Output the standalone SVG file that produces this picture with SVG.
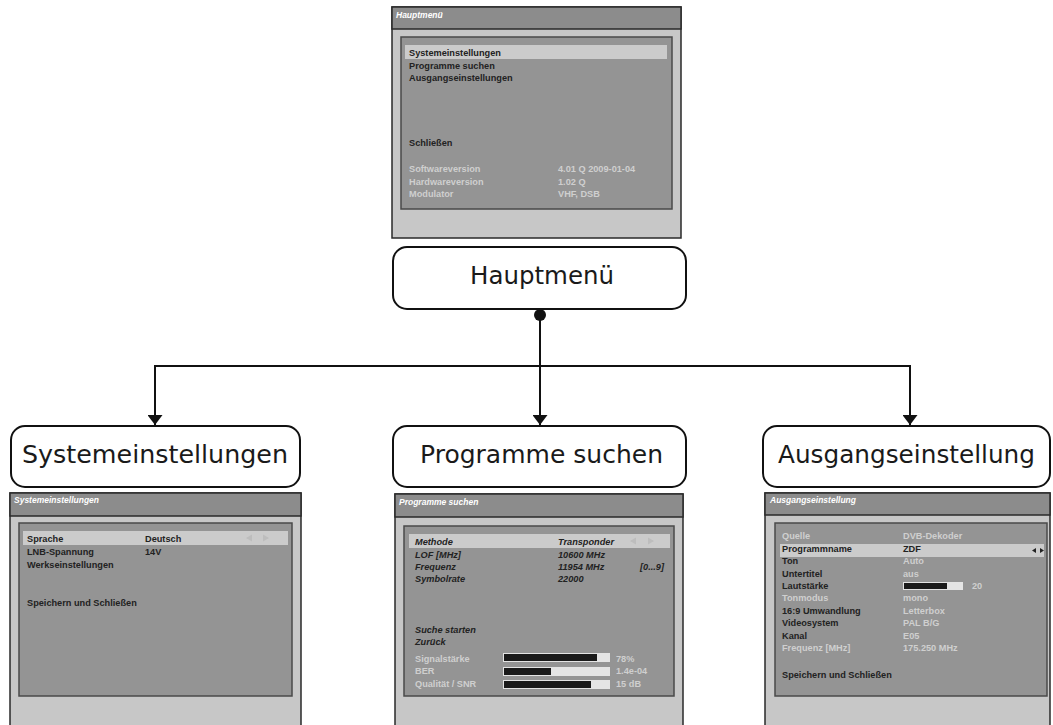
<svg xmlns="http://www.w3.org/2000/svg" width="1053" height="725" viewBox="0 0 1053 725">
<style>
.node{fill:#fff;stroke:#111;stroke-width:2}
.lbl{font-family:"DejaVu Sans",Verdana,sans-serif;font-size:25.5px;fill:#1a1a1a;text-anchor:middle}
.frame{fill:#c7c7c7;stroke:#2a2a2a;stroke-width:1.5}
.tbar{fill:#8c8c8c;stroke:#2a2a2a;stroke-width:1.5}
.panel{fill:#949494;stroke:#4a4a4a;stroke-width:1.5}
.hl{fill:#cbcbcb}
.ttl{font-family:"Liberation Sans",Arial,sans-serif;font-size:8.5px;font-weight:bold;font-style:italic;fill:#fff}
.t{font-family:"Liberation Sans",Arial,sans-serif;font-size:9.2px;font-weight:bold;fill:#222}
.ti{font-family:"Liberation Sans",Arial,sans-serif;font-size:9.2px;font-weight:bold;font-style:italic;fill:#222}
.g{font-family:"Liberation Sans",Arial,sans-serif;font-size:9.2px;font-weight:bold;fill:#cfcfcf}
.bar{fill:#e4e4e4}
.fill{fill:#1a1a1a}
.arr{fill:#bdbdbd}
.conn{fill:none;stroke:#111;stroke-width:2}
</style>
<defs>
<marker id="ah" viewBox="0 0 10 15" refX="10" refY="7.5" markerWidth="10" markerHeight="15" markerUnits="userSpaceOnUse" orient="auto">
<path d="M0,0 L10,7.5 L0,15 Z" fill="#111"/>
</marker>
</defs>

<!-- Top screenshot -->
<g id="shot-hauptmenu">
<rect class="frame" x="392" y="7" width="289" height="231"/>
<rect class="tbar" x="392" y="7" width="289" height="22"/>
<text class="ttl" x="396" y="18">Hauptmenü</text>
<rect class="panel" x="401" y="37" width="271" height="172"/>
<rect class="hl" x="405" y="45" width="262" height="14"/>
<text class="t" x="409" y="55.5">Systemeinstellungen</text>
<text class="t" x="409" y="68.5">Programme suchen</text>
<text class="t" x="409" y="80.5">Ausgangseinstellungen</text>
<text class="t" x="409" y="146">Schließen</text>
<text class="g" x="409" y="172">Softwareversion</text>
<text class="g" x="409" y="184.5">Hardwareversion</text>
<text class="g" x="409" y="197">Modulator</text>
<text class="g" x="558" y="172">4.01 Q 2009-01-04</text>
<text class="g" x="558" y="184.5">1.02 Q</text>
<text class="g" x="558" y="197">VHF, DSB</text>
</g>

<!-- Connectors -->
<g id="connectors">
<circle cx="540" cy="315" r="6" fill="#111"/>
<path class="conn" d="M540,315 V425" marker-end="url(#ah)"/>
<path class="conn" d="M155,366 H910"/>
<path class="conn" d="M155,365 V425" marker-end="url(#ah)"/>
<path class="conn" d="M910,365 V425" marker-end="url(#ah)"/>
</g>

<!-- Nodes -->
<g id="node-hauptmenu">
<rect class="node" x="393" y="247" width="293" height="62" rx="14"/>
<text class="lbl" x="542" y="284" textLength="144" lengthAdjust="spacingAndGlyphs">Hauptmenü</text>
</g>
<g id="node-system">
<rect class="node" x="11" y="426" width="289" height="61" rx="14"/>
<text class="lbl" x="155" y="463" textLength="266" lengthAdjust="spacingAndGlyphs">Systemeinstellungen</text>
</g>
<g id="node-programme">
<rect class="node" x="393" y="426" width="293" height="61" rx="14"/>
<text class="lbl" x="541.5" y="463" textLength="243" lengthAdjust="spacingAndGlyphs">Programme suchen</text>
</g>
<g id="node-ausgang">
<rect class="node" x="763" y="426" width="287" height="61" rx="14"/>
<text class="lbl" x="906.5" y="463" textLength="257" lengthAdjust="spacingAndGlyphs">Ausgangseinstellung</text>
</g>

<!-- Left screenshot -->
<g id="shot-system">
<rect class="frame" x="10" y="493" width="291" height="240"/>
<rect class="tbar" x="10" y="493" width="291" height="23"/>
<text class="ttl" x="14" y="503">Systemeinstellungen</text>
<rect class="panel" x="19" y="523" width="273" height="173"/>
<rect class="hl" x="23" y="531" width="265" height="14"/>
<text class="t" x="27" y="542">Sprache</text>
<text class="t" x="27" y="555">LNB-Spannung</text>
<text class="t" x="27" y="568">Werkseinstellungen</text>
<text class="t" x="27" y="606">Speichern und Schließen</text>
<text class="t" x="145" y="542">Deutsch</text>
<text class="t" x="145" y="555">14V</text>
<path class="arr" d="M246,538 L252,534.5 V541.5 Z M263,534.5 L269,538 L263,541.5 Z"/>
</g>

<!-- Middle screenshot -->
<g id="shot-programme">
<rect class="frame" x="395" y="494" width="288" height="240"/>
<rect class="tbar" x="395" y="494" width="288" height="23"/>
<text class="ttl" x="399" y="505">Programme suchen</text>
<rect class="panel" x="404" y="526" width="270" height="170"/>
<rect class="hl" x="409" y="534" width="261" height="14"/>
<text class="ti" x="415" y="545">Methode</text>
<text class="ti" x="415" y="557.5">LOF [MHz]</text>
<text class="ti" x="415" y="569.5">Frequenz</text>
<text class="ti" x="415" y="582">Symbolrate</text>
<text class="ti" x="415" y="633">Suche starten</text>
<text class="ti" x="415" y="645">Zurück</text>
<text class="ti" x="558" y="545">Transponder</text>
<text class="ti" x="558" y="557.5">10600 MHz</text>
<text class="ti" x="558" y="569.5">11954 MHz</text>
<text class="ti" x="558" y="582">22000</text>
<text class="ti" x="640" y="569.5">[0...9]</text>
<path class="arr" d="M630,541 L636,537.5 V544.5 Z M648,537.5 L654,541 L648,544.5 Z"/>
<text class="g" x="415" y="661.5">Signalstärke</text>
<text class="g" x="415" y="674">BER</text>
<text class="g" x="415" y="687">Qualität / SNR</text>
<rect class="bar" x="503" y="653" width="107" height="9"/>
<rect class="fill" x="504" y="654" width="93" height="7"/>
<rect class="bar" x="503" y="667" width="107" height="9"/>
<rect class="fill" x="504" y="668" width="47" height="7"/>
<rect class="bar" x="503" y="680" width="107" height="9"/>
<rect class="fill" x="504" y="681" width="87" height="7"/>
<text class="g" x="616" y="661.5">78%</text>
<text class="g" x="616" y="674">1.4e-04</text>
<text class="g" x="616" y="687">15 dB</text>
</g>

<!-- Right screenshot -->
<g id="shot-ausgang">
<rect class="frame" x="765" y="493" width="285" height="240"/>
<rect class="tbar" x="765" y="493" width="285" height="22"/>
<text class="ttl" x="770" y="503">Ausgangseinstellung</text>
<rect class="panel" x="775" y="523" width="272" height="173"/>
<rect class="hl" x="780" y="544" width="264" height="13"/>
<text class="g" x="782" y="539">Quelle</text>
<text class="t" x="782" y="551.5">Programmname</text>
<text class="t" x="782" y="564">Ton</text>
<text class="t" x="782" y="576.5">Untertitel</text>
<text class="t" x="782" y="589">Lautstärke</text>
<text class="g" x="782" y="601">Tonmodus</text>
<text class="t" x="782" y="613.5">16:9 Umwandlung</text>
<text class="t" x="782" y="626">Videosystem</text>
<text class="t" x="782" y="638.5">Kanal</text>
<text class="g" x="782" y="651">Frequenz [MHz]</text>
<text class="t" x="782" y="678">Speichern und Schließen</text>
<text class="g" x="903" y="539">DVB-Dekoder</text>
<text class="t" x="903" y="551.5">ZDF</text>
<text class="g" x="903" y="564">Auto</text>
<text class="g" x="903" y="576.5">aus</text>
<rect class="bar" x="903" y="582" width="60" height="8"/>
<rect class="fill" x="904" y="583" width="43" height="6"/>
<text class="g" x="972" y="589">20</text>
<text class="g" x="903" y="601">mono</text>
<text class="g" x="903" y="613.5">Letterbox</text>
<text class="g" x="903" y="626">PAL B/G</text>
<text class="g" x="903" y="638.5">E05</text>
<text class="g" x="903" y="651">175.250 MHz</text>
<path d="M1032,550.5 L1036,548 V553 Z M1040,548 L1044,550.5 L1040,553 Z" fill="#222"/>
</g>
</svg>
